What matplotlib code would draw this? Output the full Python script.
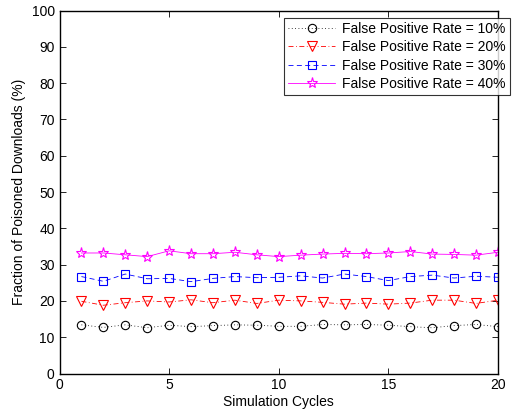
import matplotlib
matplotlib.use("Agg")
import matplotlib.pyplot as plt

plt.rcParams['font.family'] = ['Liberation Sans', 'DejaVu Sans']

cycles = list(range(1, 21))
fpr10 = [13.4, 12.7, 13.4, 12.6, 13.3, 12.9, 13.2, 13.4, 13.3, 13.0,
         13.0, 13.5, 13.4, 13.5, 13.3, 12.9, 12.6, 13.2, 13.5, 12.9]
fpr20 = [19.9, 18.8, 19.5, 20.0, 19.7, 20.3, 19.5, 20.2, 19.3, 20.2,
         20.0, 19.6, 19.1, 19.4, 19.1, 19.4, 20.2, 20.2, 19.3, 20.2]
fpr30 = [26.7, 25.4, 27.4, 26.1, 26.2, 25.3, 26.2, 26.7, 26.4, 26.5,
         26.9, 26.3, 27.4, 26.7, 25.6, 26.7, 27.1, 26.3, 26.8, 26.5]
fpr40 = [33.2, 33.2, 32.7, 32.2, 33.8, 33.0, 33.0, 33.4, 32.7, 32.2,
         32.6, 32.9, 33.1, 33.0, 33.2, 33.6, 32.9, 32.8, 32.6, 33.4]
labels = ['False Positive Rate = 10%', 'False Positive Rate = 20%',
          'False Positive Rate = 30%', 'False Positive Rate = 40%']

fig = plt.figure(figsize=(5.17, 4.12), dpi=100)
ax = fig.add_axes([59.5/517, (412-373.5)/412, (498-59.5)/517, (373.5-10.5)/412])

ax.plot(cycles, fpr10, color='black', linestyle=(0, (1, 3)), marker='o', markersize=6,
        markerfacecolor='none', markeredgewidth=0.8, linewidth=0.6, label=labels[0])
ax.plot(cycles, fpr20, color='red', linestyle=(0, (6, 3, 1, 3)), marker='v', markersize=7,
        markerfacecolor='none', markeredgewidth=0.8, linewidth=0.6, label=labels[1])
ax.plot(cycles, fpr30, color='blue', linestyle=(0, (6, 4)), marker='s', markersize=5.5,
        markerfacecolor='none', markeredgewidth=0.8, linewidth=0.6, label=labels[2])
ax.plot(cycles, fpr40, color='magenta', linestyle='-', marker='*', markersize=8,
        markerfacecolor='none', markeredgewidth=0.8, linewidth=0.6, label=labels[3])

ax.set_xlim(0, 20)
ax.set_ylim(0, 100)
ax.set_xticks([0, 5, 10, 15, 20])
ax.set_yticks(range(0, 101, 10))
ax.tick_params(direction='in', top=True, right=True, labelsize=10, length=4, width=0.6)
for s in ax.spines.values():
    s.set_linewidth(1.0)
ax.set_xlabel('Simulation Cycles', fontsize=10, labelpad=2)
ax.set_ylabel('Fraction of Poisoned Downloads (%)', fontsize=10, labelpad=4)

leg = ax.legend(loc='upper right', bbox_to_anchor=(510/517, (412-18)/412),
                bbox_transform=fig.transFigure, fontsize=10, frameon=True,
                fancybox=False, edgecolor='black', borderpad=0.3, labelspacing=0.3,
                handlelength=3.4, handletextpad=0.5, borderaxespad=0)
leg.get_frame().set_linewidth(0.8)

fig.savefig('out.png', dpi=100)
